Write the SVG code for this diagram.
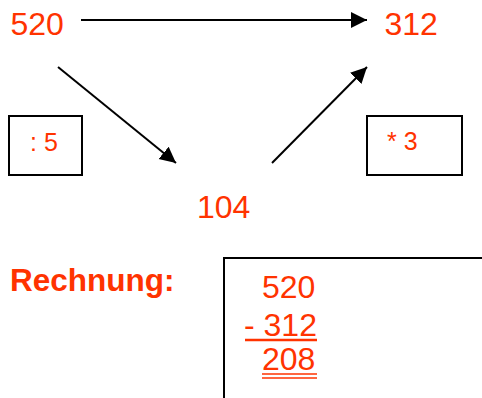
<svg xmlns="http://www.w3.org/2000/svg" width="482" height="398" viewBox="0 0 482 398">
<style>
.t{font-family:"Liberation Sans",Arial,sans-serif;fill:#FF3300;font-size:32px}
.s{font-size:25px}
.b{font-weight:bold;font-size:31.5px}
.box{fill:none;stroke:#000;stroke-width:2}
.c{stroke:#000;stroke-width:2;fill:none}
.u{stroke:#FF3300}
</style>
<defs>
<marker id="ah" markerUnits="userSpaceOnUse" markerWidth="18" markerHeight="18" refX="16" refY="8" orient="auto" viewBox="0 0 18 18">
<path d="M0,0 L16,8 L0,16 z" fill="#000"/>
</marker>
</defs>
<rect width="482" height="398" fill="#fff"/>
<g id="connectors">
<line class="c" x1="81" y1="20" x2="367" y2="20" marker-end="url(#ah)"/>
<line class="c" x1="58" y1="67" x2="176" y2="163" marker-end="url(#ah)"/>
<line class="c" x1="272" y1="163" x2="367" y2="67" marker-end="url(#ah)"/>
</g>
<g id="n520"><text class="t" x="10.5" y="35">520</text></g>
<g id="n312"><text class="t" x="384.5" y="35">312</text></g>
<g id="n104"><text class="t" x="197" y="218">104</text></g>
<g id="div5"><rect class="box" x="9" y="116" width="73" height="59"/><text class="t s" x="30" y="151">: 5</text></g>
<g id="mul3"><rect class="box" x="367" y="116" width="95" height="59"/><text class="t s" x="387" y="150">* 3</text></g>
<g id="label"><text class="t b" x="10" y="291">Rechnung:</text></g>
<g id="calc">
<rect class="box" x="224" y="258" width="270" height="160"/>
<text class="t" x="262" y="298">520</text>
<text class="t" x="244" y="336">- 312</text>
<line class="u" x1="245" y1="340" x2="317" y2="340" stroke-width="2.4"/>
<text class="t" x="262" y="370">208</text>
<line class="u" x1="262" y1="374" x2="317" y2="374" stroke-width="1.5"/>
<line class="u" x1="262" y1="378" x2="317" y2="378" stroke-width="1.5"/>
</g>
</svg>
